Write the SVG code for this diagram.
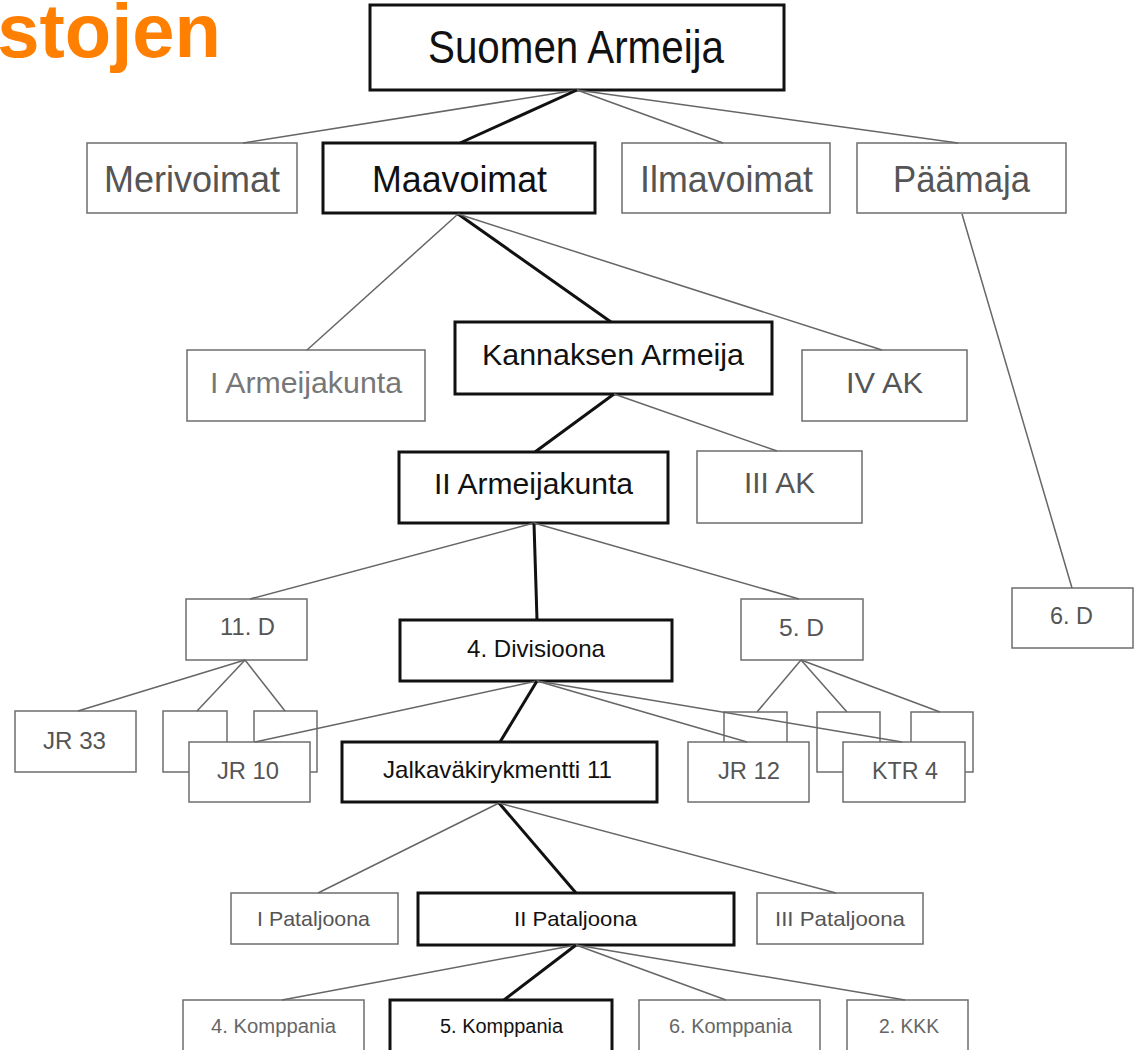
<svg xmlns="http://www.w3.org/2000/svg" width="1136" height="1050" viewBox="0 0 1136 1050">
<style>
text{font-family:"Liberation Sans",Arial,sans-serif;text-anchor:middle}
.g rect{fill:#fff;stroke:#6e6e6e;stroke-width:1.5}
.g text{fill:#555}
.b rect{fill:#fff;stroke:#111;stroke-width:3}
.b text{fill:#111}
.c line{stroke:#666;stroke-width:1.5}
.c line.k{stroke:#111;stroke-width:3}
.t{fill:#ff7f00;font-weight:bold;text-anchor:end}
</style>
<rect width="1136" height="1050" fill="#fff"/>
<text class="t" x="221" y="57" font-size="76">stojen</text>

<g id="n-suomen" class="b"><rect x="370" y="5" width="414" height="85"/><text x="576" y="63" font-size="46" textLength="296" lengthAdjust="spacingAndGlyphs">Suomen Armeija</text></g>
<g id="n-merivoimat" class="g"><rect x="87" y="143" width="210" height="70"/><text x="192" y="192" font-size="36" textLength="176" lengthAdjust="spacingAndGlyphs">Merivoimat</text></g>
<g id="n-maavoimat" class="b"><rect x="323" y="143" width="272" height="70"/><text x="459.5" y="192" font-size="36" textLength="175" lengthAdjust="spacingAndGlyphs">Maavoimat</text></g>
<g id="n-ilmavoimat" class="g"><rect x="622" y="143" width="208" height="70"/><text x="726.5" y="192" font-size="36" textLength="173" lengthAdjust="spacingAndGlyphs">Ilmavoimat</text></g>
<g id="n-paamaja" class="g"><rect x="857" y="143" width="209" height="70"/><text x="961.5" y="192" font-size="36" textLength="137" lengthAdjust="spacingAndGlyphs">Päämaja</text></g>

<g id="n-iak" class="g"><rect x="187" y="350" width="238" height="71"/><text x="306" y="393" font-size="30" textLength="192" lengthAdjust="spacingAndGlyphs" style="fill:#777">I Armeijakunta</text></g>
<g id="n-kannaksen" class="b"><rect x="455" y="322" width="317" height="72"/><text x="613" y="365" font-size="30" textLength="262" lengthAdjust="spacingAndGlyphs">Kannaksen Armeija</text></g>
<g id="n-ivak" class="g"><rect x="802" y="350" width="165" height="71"/><text x="884.5" y="393" font-size="30" textLength="77" lengthAdjust="spacingAndGlyphs">IV AK</text></g>
<g id="n-iiak" class="b"><rect x="399" y="452" width="269" height="71"/><text x="533.5" y="494" font-size="30" textLength="199" lengthAdjust="spacingAndGlyphs">II Armeijakunta</text></g>
<g id="n-iiiak" class="g"><rect x="697" y="451" width="165" height="72"/><text x="779.5" y="493" font-size="30" textLength="71" lengthAdjust="spacingAndGlyphs">III AK</text></g>

<g id="n-11d" class="g"><rect x="186" y="599" width="121" height="61"/><text x="247.5" y="635" font-size="23" textLength="55" lengthAdjust="spacingAndGlyphs">11. D</text></g>
<g id="n-4div" class="b"><rect x="400" y="620" width="272" height="61"/><text x="536" y="657" font-size="24" textLength="138" lengthAdjust="spacingAndGlyphs">4. Divisioona</text></g>
<g id="n-5d" class="g"><rect x="741" y="599" width="122" height="61"/><text x="801.5" y="636" font-size="24" textLength="45" lengthAdjust="spacingAndGlyphs">5. D</text></g>
<g id="n-6d" class="g"><rect x="1012" y="588" width="121" height="60"/><text x="1071.5" y="624" font-size="24" textLength="43" lengthAdjust="spacingAndGlyphs">6. D</text></g>

<g id="n-jr33" class="g"><rect x="15" y="711" width="121" height="61"/><text x="74.5" y="749" font-size="24" textLength="63" lengthAdjust="spacingAndGlyphs">JR 33</text></g>
<g id="n-b1" class="g"><rect x="163" y="711" width="64" height="61"/></g>
<g id="n-b2" class="g"><rect x="254" y="711" width="63" height="61"/></g>
<g id="n-b3" class="g"><rect x="724" y="712" width="63" height="60"/></g>
<g id="n-b4" class="g"><rect x="817" y="712" width="63" height="60"/></g>
<g id="n-b5" class="g"><rect x="911" y="712" width="62" height="60"/></g>
<g id="n-jr10" class="g"><rect x="189" y="742" width="121" height="60"/><text x="248" y="779" font-size="24" textLength="62" lengthAdjust="spacingAndGlyphs">JR 10</text></g>
<g id="n-jalkav" class="b"><rect x="342" y="742" width="315" height="60"/><text x="497.5" y="778" font-size="24" textLength="229" lengthAdjust="spacingAndGlyphs">Jalkaväkirykmentti 11</text></g>
<g id="n-jr12" class="g"><rect x="688" y="742" width="121" height="60"/><text x="749" y="779" font-size="24" textLength="62" lengthAdjust="spacingAndGlyphs">JR 12</text></g>
<g id="n-ktr4" class="g"><rect x="843" y="742" width="122" height="60"/><text x="905" y="779" font-size="24" textLength="66" lengthAdjust="spacingAndGlyphs">KTR 4</text></g>

<g id="n-ipat" class="g"><rect x="231" y="893" width="167" height="51"/><text x="313.5" y="926" font-size="21" textLength="113" lengthAdjust="spacingAndGlyphs">I Pataljoona</text></g>
<g id="n-iipat" class="b"><rect x="418" y="893" width="316" height="52"/><text x="575.5" y="926" font-size="21" textLength="123" lengthAdjust="spacingAndGlyphs">II Pataljoona</text></g>
<g id="n-iiipat" class="g"><rect x="757" y="893" width="166" height="51"/><text x="840" y="926" font-size="21" textLength="130" lengthAdjust="spacingAndGlyphs">III Pataljoona</text></g>

<g id="n-4k" class="g"><rect x="183" y="1000" width="181" height="62"/><text x="273.5" y="1033" font-size="20" textLength="125" lengthAdjust="spacingAndGlyphs" style="fill:#666">4. Komppania</text></g>
<g id="n-5k" class="b"><rect x="390" y="1000" width="222" height="62"/><text x="501.5" y="1033" font-size="20" textLength="123" lengthAdjust="spacingAndGlyphs">5. Komppania</text></g>
<g id="n-6k" class="g"><rect x="639" y="1000" width="181" height="62"/><text x="730.5" y="1033" font-size="20" textLength="123" lengthAdjust="spacingAndGlyphs" style="fill:#666">6. Komppania</text></g>
<g id="n-2kkk" class="g"><rect x="847" y="1000" width="121" height="62"/><text x="909" y="1033" font-size="20" textLength="60" lengthAdjust="spacingAndGlyphs" style="fill:#666">2. KKK</text></g>

<g id="connectors" class="c">
<line x1="577" y1="90" x2="243" y2="143"/>
<line class="k" x1="577" y1="90" x2="460" y2="143"/>
<line x1="577" y1="90" x2="723" y2="143"/>
<line x1="577" y1="90" x2="958" y2="143"/>
<line x1="458" y1="214" x2="307" y2="350"/>
<line class="k" x1="458" y1="214" x2="611" y2="322"/>
<line x1="458" y1="214" x2="882" y2="350"/>
<line x1="962" y1="214" x2="1072" y2="588"/>
<line class="k" x1="614" y1="394" x2="535" y2="452"/>
<line x1="614" y1="394" x2="777" y2="451"/>
<line x1="534" y1="523" x2="250" y2="599"/>
<line class="k" x1="534" y1="523" x2="537" y2="620"/>
<line x1="534" y1="523" x2="799" y2="599"/>
<line x1="245" y1="660" x2="78" y2="711"/>
<line x1="245" y1="660" x2="197" y2="711"/>
<line x1="245" y1="660" x2="285" y2="711"/>
<line x1="537" y1="681" x2="255" y2="742"/>
<line class="k" x1="537" y1="681" x2="500" y2="742"/>
<line x1="537" y1="681" x2="747" y2="742"/>
<line x1="537" y1="681" x2="902" y2="742"/>
<line x1="801" y1="660" x2="757" y2="712"/>
<line x1="801" y1="660" x2="847" y2="712"/>
<line x1="801" y1="660" x2="940" y2="712"/>
<line x1="499" y1="803" x2="318" y2="893"/>
<line class="k" x1="499" y1="803" x2="576" y2="893"/>
<line x1="499" y1="803" x2="836" y2="893"/>
<line x1="576" y1="945" x2="282" y2="1000"/>
<line class="k" x1="576" y1="945" x2="504" y2="1000"/>
<line x1="576" y1="945" x2="726" y2="1000"/>
<line x1="576" y1="945" x2="905" y2="1000"/>
</g>
</svg>
